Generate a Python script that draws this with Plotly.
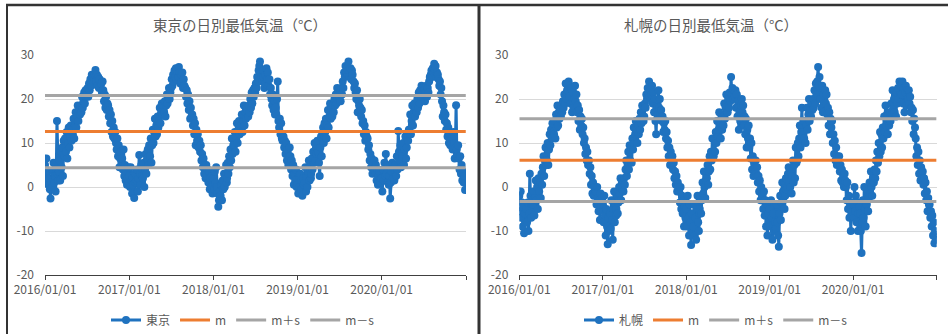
import datetime as dt
import plotly.graph_objects as go

# Daily minimum temperature (°C), sampled every third day (days 1, 4, ..., 28 of each month)
DAYS = [1, 4, 7, 10, 13, 16, 19, 22, 25, 28]
YEARS = [2016, 2017, 2018, 2019, 2020]

# one row per month, January to December
tokyo_2016 = [
    5.0, 3.0, 6.5, 1.5, 3.5, 0.5, 2.0, -0.5, -2.6, 1.0,
    0.0, 3.5, 5.5, 1.0, 2.5, -1.0, 4.0, 15.0, 3.0, 1.5,
    3.5, 6.0, 1.5, 8.0, 4.5, 9.0, 2.5, 10.5, 7.0, 11.0,
    8.0, 12.5, 6.5, 10.0, 13.5, 9.0, 11.5, 14.0, 10.5, 13.0,
    12.0, 15.5, 11.0, 14.0, 17.0, 13.5, 16.0, 18.5, 15.0, 17.5,
    16.5, 18.5, 17.0, 20.5, 18.0, 19.5, 21.5, 19.0, 22.0, 20.5,
    21.0, 22.5, 20.5, 23.5, 22.0, 24.5, 23.0, 25.5, 24.0, 25.0,
    24.5, 25.5, 26.6, 24.0, 25.5, 23.0, 25.0, 22.5, 24.5, 23.5,
    23.5, 21.5, 24.0, 22.0, 19.5, 21.0, 18.0, 20.5, 17.5, 19.0,
    18.5, 16.0, 17.5, 14.5, 16.5, 12.5, 15.0, 11.5, 13.5, 11.0,
    12.5, 10.0, 8.5, 11.0, 7.0, 9.5, 4.5, 6.5, 8.0, 5.5,
    6.5, 4.0, 8.5, 2.5, 5.0, 1.5, 3.5, 0.5, 2.0, 4.5]
tokyo_2017 = [
    2.5, 0.0, 4.5, 1.5, -1.5, 2.0, 0.5, -2.5, 3.0, 1.0,
    1.5, 4.0, -1.0, 2.0, 7.3, 3.0, 0.5, 5.0, 2.5, 4.0,
    2.0, 5.5, 0.0, 4.0, 7.5, 3.0, 6.5, 8.5, 5.0, 9.5,
    7.0, 11.0, 5.5, 9.5, 13.0, 10.0, 12.5, 15.5, 11.5, 14.0,
    12.0, 16.0, 13.5, 15.0, 18.0, 14.5, 17.0, 19.0, 16.5, 18.5,
    17.0, 19.5, 16.0, 18.5, 21.0, 19.0, 20.5, 22.5, 20.0, 21.5,
    22.5, 24.5, 23.0, 25.5, 24.0, 26.5, 25.0, 27.0, 24.5, 26.0,
    25.0, 27.3, 26.0, 23.5, 25.5, 24.0, 26.0, 22.5, 24.5, 23.0,
    22.5, 20.5, 22.0, 19.0, 21.0, 17.5, 19.5, 15.5, 18.0, 16.0,
    16.5, 14.0, 15.5, 12.0, 14.5, 9.5, 13.0, 10.5, 12.0, 9.0,
    10.5, 8.0, 9.5, 6.0, 7.5, 4.5, 6.5, 3.0, 5.0, 2.0,
    5.0, 2.5, 4.0, 1.0, 3.5, -0.5, 2.0, 0.0, 2.5, -1.5]
tokyo_2018 = [
    2.0, -0.5, 3.5, 1.0, 4.5, 0.0, -1.5, -4.5, -3.0, -1.0,
    -2.0, 0.5, -3.0, 1.5, -0.5, 3.0, 0.0, 2.5, 5.0, 1.0,
    2.0, 5.5, 3.0, 7.0, 4.5, 8.5, 6.0, 11.0, 7.5, 9.5,
    9.5, 12.5, 8.0, 11.0, 14.5, 10.0, 13.0, 15.0, 12.0, 14.0,
    13.0, 16.5, 12.5, 15.0, 18.5, 14.0, 17.0, 15.5, 18.0, 17.5,
    16.0, 18.5, 17.0, 20.0, 18.0, 21.5, 19.0, 22.0, 20.5, 22.5,
    21.5, 23.5, 22.5, 25.0, 24.0, 26.5, 27.5, 28.5, 26.0, 25.0,
    24.0, 26.5, 25.0, 22.5, 25.5, 23.5, 27.0, 24.5, 26.0, 23.0,
    24.5, 21.0, 22.5, 20.0, 18.5, 21.0, 17.5, 19.5, 16.5, 18.0,
    16.5, 20.0, 24.0, 15.0, 13.5, 15.5, 12.0, 14.5, 11.0, 10.5,
    11.5, 9.0, 10.5, 7.5, 10.0, 6.0, 8.5, 5.0, 7.0, 9.0,
    7.0, 4.0, 6.0, 2.5, 5.0, 0.5, 3.0, 1.5, 4.0, 0.0]
tokyo_2019 = [
    0.5, -1.5, 2.5, 0.0, 3.0, -0.5, 1.5, -2.0, 2.0, 0.5,
    1.0, 4.5, -1.0, 2.5, 0.0, 3.5, 6.0, 1.5, 4.0, 2.0,
    3.0, 6.5, 4.0, 8.0, 5.5, 10.0, 6.0, 9.0, 7.5, 10.5,
    8.0, 5.5, 2.5, 9.0, 11.5, 7.0, 12.0, 13.5, 10.0, 14.5,
    12.5, 15.5, 11.0, 14.0, 17.5, 13.5, 16.0, 19.0, 15.5, 18.0,
    16.0, 18.5, 17.0, 20.0, 18.5, 21.0, 19.0, 22.5, 20.0, 21.5,
    20.0, 21.5, 19.5, 22.5, 21.0, 24.0, 22.5, 26.0, 25.0, 27.5,
    26.0, 27.0, 25.5, 28.5, 26.5, 25.0, 27.0, 24.5, 26.5, 25.5,
    24.0, 22.5, 23.5, 21.5, 20.0, 22.0, 17.0, 19.5, 18.5, 20.0,
    18.0, 16.0, 17.5, 14.5, 15.0, 12.0, 14.0, 10.5, 12.5, 11.5,
    11.0, 8.5, 9.5, 6.0, 7.5, 4.5, 6.5, 3.0, 5.5, 4.0,
    6.0, 3.5, 5.0, 1.5, 4.0, 0.5, 2.5, 3.5, 1.0, 2.0]
tokyo_2020 = [
    2.0, -1.0, 4.0, 1.5, 5.5, 2.5, 7.5, 3.0, 5.0, 1.0,
    0.5, 2.5, -2.6, 1.0, 3.5, 5.5, 2.0, 4.5, 1.5, 3.0,
    5.0, 2.5, 7.0, 4.0, 12.7, 8.0, 6.0, 9.5, 4.5, 7.5,
    7.0, 10.0, 5.0, 8.5, 11.5, 6.5, 9.0, 12.0, 10.5, 13.0,
    13.0, 16.5, 12.0, 15.0, 18.5, 14.0, 17.0, 19.0, 16.0, 18.0,
    17.0, 20.0, 18.0, 21.5, 19.0, 22.0, 20.5, 23.0, 21.0, 22.5,
    20.5, 22.0, 19.5, 21.5, 23.0, 20.5, 22.5, 21.5, 24.0, 25.0,
    25.5, 26.5, 25.0, 27.0, 26.0, 28.0, 26.5, 27.5, 25.0, 26.0,
    25.5, 24.5, 23.0, 24.0, 21.0, 22.5, 19.5, 16.0, 18.5, 17.0,
    15.0, 16.5, 13.0, 14.5, 11.5, 13.5, 10.0, 12.0, 9.5, 11.5,
    11.0, 8.5, 12.5, 10.0, 6.5, 9.0, 18.6, 8.5, 7.0, 9.5,
    6.5, 4.0, 7.0, 3.0, 5.0, 1.5, 3.5, 1.0, 2.5, -0.7]

sapporo_2016 = [
    -2.0, -5.5, -1.0, -7.0, -3.5, -9.0, -4.5, -10.5, -6.0, -8.0,
    -5.0, -8.0, -3.5, -10.0, -6.0, 3.0, -2.0, -7.0, -4.0, -1.5,
    -4.0, -1.0, -6.5, -2.5, 1.5, -3.0, 0.0, -5.0, 2.0, -1.0,
    1.0, -2.5, 3.0, 0.5, 4.5, 7.0, 2.5, 6.0, 9.0, 5.0,
    6.0, 10.0, 5.0, 8.5, 12.0, 9.5, 13.0, 11.0, 14.5, 12.5,
    12.0, 15.0, 11.0, 16.5, 13.5, 18.5, 14.0, 17.0, 15.5, 17.5,
    16.0, 18.5, 17.0, 19.5, 18.0, 21.0, 19.0, 23.5, 20.0, 22.0,
    22.0, 24.0, 20.5, 23.0, 19.0, 22.5, 17.0, 21.5, 18.0, 20.0,
    23.0, 19.5, 21.0, 17.0, 18.5, 15.0, 17.5, 13.0, 16.0, 14.0,
    15.5, 12.0, 13.5, 10.0, 11.0, 7.5, 9.0, 6.0, 8.0, 5.0,
    6.0, 3.0, 4.5, 0.5, 2.5, -1.5, 1.0, -2.0, 0.0, -1.0,
    -1.0, -4.0, 0.0, -2.5, -5.5, -3.0, -7.5, -1.5, -4.0, -2.5]
sapporo_2017 = [
    -4.0, -8.0, -2.0, -6.5, -11.0, -5.0, -9.0, -13.0, -7.0, -10.0,
    -6.0, -9.5, -3.0, -7.5, -12.0, -5.0, -1.0, -8.0, -4.0, -6.5,
    -5.0, -2.0, -6.0, -3.5, 0.0, -1.5, 2.0, -3.0, 1.0, -0.5,
    -1.0, 2.0, 0.5, 4.0, 6.0, 2.5, 5.0, 8.0, 4.0, 9.5,
    6.0, 9.0, 5.5, 11.0, 8.5, 13.5, 10.0, 12.0, 15.0, 13.0,
    10.0, 14.0, 12.0, 15.5, 13.0, 17.0, 14.5, 18.5, 16.0, 15.0,
    16.0, 19.0, 18.0, 21.0, 20.0, 22.5, 21.5, 24.0, 20.5, 22.0,
    21.0, 23.0, 19.0, 21.5, 17.0, 20.0, 15.0, 12.0, 18.0, 16.5,
    22.0, 18.0, 20.0, 16.5, 17.5, 15.0, 16.0, 12.5, 14.5, 13.0,
    15.0, 11.0, 12.5, 9.0, 10.5, 7.0, 9.0, 5.0, 8.0, 6.5,
    7.0, 4.0, 5.5, 2.0, 3.5, 0.5, 2.5, -1.0, 1.0, 0.0,
    -1.0, -3.5, 0.0, -5.0, -2.0, -6.0, -3.0, -9.0, -4.5, -7.0]
sapporo_2018 = [
    -5.0, -9.0, -2.0, -7.0, -11.0, -4.0, -8.0, -13.2, -6.0, -10.0,
    -9.0, -4.0, -11.0, -7.0, -12.0, -5.0, -2.0, -8.0, -10.0, -6.0,
    -5.0, -2.0, -6.0, -3.0, 1.0, -1.5, 3.5, 0.0, -2.5, 1.5,
    2.0, 5.0, 0.5, 3.5, 7.0, 4.0, 8.0, 6.0, 11.0, 7.5,
    7.0, 11.0, 8.0, 12.5, 10.0, 15.0, 11.5, 13.0, 17.0, 14.0,
    11.0, 14.5, 13.0, 16.0, 14.0, 19.0, 15.5, 18.0, 21.0, 17.0,
    17.0, 20.0, 18.0, 21.5, 19.5, 25.0, 21.0, 22.5, 20.0, 22.0,
    20.5, 22.0, 18.0, 21.0, 16.0, 19.5, 13.0, 17.0, 15.0, 18.5,
    20.0, 17.0, 18.5, 14.0, 16.0, 12.0, 15.5, 9.0, 13.0, 11.0,
    14.0, 9.0, 11.0, 6.5, 10.0, 4.0, 7.0, 2.5, 5.5, 3.5,
    6.0, 3.0, 4.5, 1.0, 2.5, -1.0, 1.5, -3.0, 0.0, -2.0,
    -2.0, -5.0, -1.0, -6.5, -3.0, -9.0, -4.0, -11.0, -6.0, -8.0]
sapporo_2019 = [
    -5.0, -9.0, -3.0, -7.0, -12.0, -6.0, -10.0, -4.0, -8.0, -9.5,
    -4.0, -8.0, -11.0, -13.6, -6.0, -2.0, -7.5, -3.5, 1.0, -1.0,
    -3.0, -1.0, -5.0, -2.0, 2.0, -0.5, 0.0, 3.0, 4.5, 1.0,
    0.0, 3.0, -1.5, 2.5, 6.0, 1.0, 5.0, 2.0, 9.0, 5.5,
    6.0, 10.0, 7.0, 11.0, 14.0, 9.0, 12.5, 18.0, 11.0, 15.0,
    11.0, 15.0, 10.0, 14.0, 18.0, 13.0, 16.5, 20.0, 15.0, 17.5,
    16.0, 19.0, 17.5, 20.0, 18.0, 22.0, 19.0, 23.5, 21.0, 24.0,
    27.3, 23.0, 25.0, 20.0, 22.5, 18.0, 23.0, 17.0, 21.0, 19.0,
    22.0, 19.0, 21.0, 16.5, 18.0, 14.0, 17.0, 12.0, 15.5, 13.5,
    15.0, 10.0, 12.0, 7.5, 10.5, 6.0, 9.0, 5.0, 7.0, 6.0,
    7.0, 3.5, 5.0, 1.5, 4.0, 1.0, 2.5, 0.0, 3.0, 1.5,
    0.0, -3.0, 1.0, -5.0, -2.0, -7.0, -4.0, -10.0, -6.0, -3.5]
sapporo_2020 = [
    -4.0, -7.0, 0.0, -5.5, -2.0, -8.0, -3.5, -10.0, -6.0, -4.5,
    -6.0, -10.0, -15.0, -8.0, -3.0, -7.0, 0.0, -5.0, -9.0, -4.0,
    -4.0, -1.0, -5.5, -2.5, 1.0, -1.5, 3.5, 0.0, -2.0, 2.0,
    1.0, 4.0, 2.0, 6.0, 3.5, 8.0, 5.5, 10.0, 7.0, 12.5,
    8.0, 12.0, 9.0, 13.5, 11.0, 16.0, 12.5, 18.5, 14.0, 16.5,
    12.0, 15.5, 14.0, 17.0, 15.0, 19.0, 16.5, 22.0, 18.0, 20.0,
    17.0, 20.0, 16.0, 21.5, 19.0, 22.5, 20.0, 24.0, 21.0, 23.0,
    21.0, 24.0, 19.0, 22.5, 17.0, 21.5, 23.0, 18.5, 22.0, 20.0,
    22.0, 19.0, 20.5, 17.0, 18.0, 15.0, 17.5, 12.0, 15.5, 13.5,
    11.0, 7.0, 9.0, 5.0, 8.0, 3.0, 6.0, 1.5, 4.5, 3.0,
    3.5, 0.5, 2.0, -1.5, 1.0, -3.0, -1.0, -5.5, -2.5, -4.0,
    -4.0, -7.0, -5.5, -9.0, -6.5, -11.0, -8.0, -12.8, -10.0, -12.0]

# Mean (m) and standard deviation (s) of each series
tokyo_m, tokyo_s = 12.6, 8.2
sapporo_m, sapporo_s = 6.1, 9.4

PERIOD = ["2016-01-01", "2020-12-31"]
YEAR_TICKS = ["2016-01-01", "2017-01-01", "2018-01-01", "2019-01-01", "2020-01-01", "2021-01-01"]
YEAR_LABELS = ["2016/01/01", "2017/01/01", "2018/01/01", "2019/01/01", "2020/01/01", ""]
Y_TICKS = [-20, -10, 0, 10, 20, 30]
Y_LABELS = ["-20", "-10", "0", "10", "20", "30"]

dates = [dt.date(y, m, d) for y in YEARS for m in range(1, 13) for d in DAYS]
tokyo = tokyo_2016 + tokyo_2017 + tokyo_2018 + tokyo_2019 + tokyo_2020
sapporo = sapporo_2016 + sapporo_2017 + sapporo_2018 + sapporo_2019 + sapporo_2020

W, H = 948, 334
FONT = "Noto Sans CJK JP"
TXT = "#595959"
BLUE, ORANGE, GRAY = "#1F72BF", "#ED7D31", "#A5A5A5"


def fx(x):
    return x / W


def fy(y):
    return 1 - y / H


fig = go.Figure()

panels = [
    ("東京", tokyo, tokyo_m, tokyo_s, "x", "y", "legend"),
    ("札幌", sapporo, sapporo_m, sapporo_s, "x2", "y2", "legend2"),
]
for name, vals, m, s, xa, ya, lg in panels:
    fig.add_trace(go.Scatter(
        x=dates, y=vals, name=name, mode="lines+markers",
        line=dict(color=BLUE, width=3), marker=dict(color=BLUE, size=8),
        xaxis=xa, yaxis=ya, legend=lg))
    for label, v, c in [("m", m, ORANGE), ("m＋s", m + s, GRAY), ("m－s", m - s, GRAY)]:
        fig.add_trace(go.Scatter(
            x=PERIOD, y=[v, v], name=label, mode="lines",
            line=dict(color=c, width=3), xaxis=xa, yaxis=ya, legend=lg))

xax = dict(type="date", range=["2016-01-01", "2021-01-01"], tickvals=YEAR_TICKS,
           ticktext=YEAR_LABELS, showgrid=False, showline=True, linecolor="#404040",
           linewidth=1, ticks="outside", ticklen=4, tickcolor="#404040",
           tickfont=dict(family=FONT, size=12, color=TXT), zeroline=False,
           automargin=False)
yax = dict(range=[-20, 30], tickvals=Y_TICKS, ticktext=Y_LABELS, showgrid=True,
           gridcolor="#D9D9D9", gridwidth=1, showline=False, zeroline=False,
           ticks="", ticklabelstandoff=10, automargin=False,
           tickfont=dict(family=FONT, size=12, color=TXT))

legend_common = dict(orientation="h", yanchor="middle", y=fy(320), xanchor="center",
                     font=dict(family=FONT, size=12, color=TXT),
                     bgcolor="rgba(0,0,0,0)", itemwidth=30, tracegroupgap=0)

fig.update_layout(
    width=W, height=H, autosize=False,
    margin=dict(l=0, r=0, t=0, b=0, pad=0, autoexpand=False),
    paper_bgcolor="white", plot_bgcolor="white",
    font=dict(family=FONT, color=TXT),
    xaxis=dict(xax, domain=[fx(45), fx(466)], anchor="y"),
    yaxis=dict(yax, domain=[fy(275), fy(55)], anchor="x"),
    xaxis2=dict(xax, domain=[fx(519.3), fx(936.7)], anchor="y2"),
    yaxis2=dict(yax, domain=[fy(275), fy(55)], anchor="x2"),
    legend=dict(legend_common, x=fx(243)),
    legend2=dict(legend_common, x=fx(716)),
    showlegend=True,
)

for text, cx in [("東京の日別最低気温（°C）", 240), ("札幌の日別最低気温（°C）", 711)]:
    fig.add_annotation(text=text, x=fx(cx), y=fy(25), xref="paper", yref="paper",
                       showarrow=False, xanchor="center", yanchor="middle",
                       font=dict(family=FONT, size=14.5, color=TXT))

# Panel frames
frame = "#333333"
fig.add_shape(type="line", xref="paper", yref="paper", x0=fx(6), x1=1, y0=fy(5), y1=fy(5),
              line=dict(color=frame, width=2.5))
fig.add_shape(type="line", xref="paper", yref="paper", x0=fx(7), x1=fx(7), y0=fy(5), y1=0,
              line=dict(color=frame, width=2))
fig.add_shape(type="line", xref="paper", yref="paper", x0=fx(479), x1=fx(479), y0=fy(5), y1=0,
              line=dict(color=frame, width=3))

fig.write_html("out.html")
